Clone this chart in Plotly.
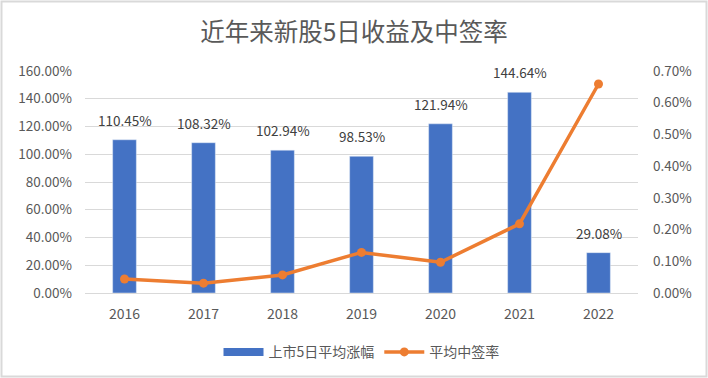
import plotly.graph_objects as go

years = ["2016", "2017", "2018", "2019", "2020", "2021", "2022"]
gain_5d = [110.45, 108.32, 102.94, 98.53, 121.94, 144.64, 29.08]
win_rate = [0.044, 0.031, 0.057, 0.128, 0.097, 0.218, 0.659]

font_cn = "Noto Sans CJK SC, Microsoft YaHei, sans-serif"
gray = "#595959"

fig = go.Figure()
fig.add_trace(go.Bar(
    x=years, y=gain_5d, name="上市5日平均涨幅", showlegend=False,
    marker_color="#4472C4", width=0.30,
))
# legend entry for bars (wide swatch like the original)
fig.add_trace(go.Scatter(
    x=[years[0]], y=[None], name="上市5日平均涨幅", mode="lines",
    line=dict(color="#4472C4", width=8), showlegend=True,
))
fig.add_trace(go.Scatter(
    x=years, y=win_rate, name="平均中签率", yaxis="y2",
    mode="lines+markers", line=dict(color="#ED7D31", width=3.5),
    marker=dict(size=9, color="#ED7D31"),
))

# data labels above bars (category index positions on the category axis)
for i, v in enumerate(gain_5d):
    fig.add_annotation(x=i, y=v, xref="x", yref="y", text=f"{v:.2f}%",
                       showarrow=False, yanchor="bottom", yshift=8,
                       font=dict(size=13.5, color="#404040"))

fig.update_layout(
    width=708, height=378,
    paper_bgcolor="white", plot_bgcolor="white",
    margin=dict(l=85, r=70, t=71, b=85, autoexpand=False),
    title=dict(text="近年来新股5日收益及中签率", x=0.5, xanchor="center",
               y=0.915, yanchor="middle",
               font=dict(family=font_cn, size=24.5, color=gray)),
    font=dict(family=font_cn, color=gray, size=12),
    showlegend=True,
    legend=dict(orientation="h", x=0.5, xanchor="center", y=-0.195, yanchor="top",
                font=dict(size=14, color=gray), itemwidth=40),
    xaxis=dict(type="category", categoryorder="array", categoryarray=years,
               showgrid=False, showline=True, linecolor="#D9D9D9",
               tickfont=dict(size=14, color=gray), ticks="",
               ticklabelstandoff=8),
    yaxis=dict(range=[0, 160], dtick=20, ticksuffix="%", tickformat=".2f",
               showgrid=True, gridcolor="#D9D9D9", zeroline=False,
               tickfont=dict(size=13.5, color=gray), ticklabelstandoff=12),
    yaxis2=dict(range=[0, 0.7], dtick=0.1, ticksuffix="%", tickformat=".2f",
                overlaying="y", side="right", showgrid=False, zeroline=False,
                tickfont=dict(size=13.5, color=gray), ticklabelstandoff=14),
)
fig.add_shape(type="rect", xref="paper", yref="paper",
              x0=-83.5/553, x1=1+68.5/553, y0=-83.5/222, y1=1+69.5/222,
              line=dict(color="#D9D9D9", width=2))

fig.write_html("out.html", config={"displayModeBar": False},
               post_script="document.body.style.margin='0';")
